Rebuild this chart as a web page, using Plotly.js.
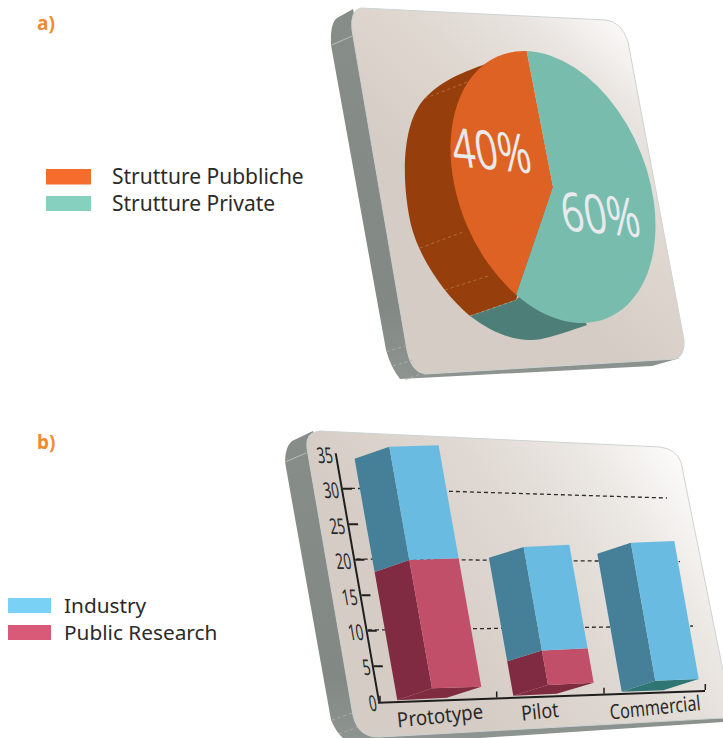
<!DOCTYPE html>
<html><head><meta charset="utf-8">
<script src="https://cdn.plot.ly/plotly-3.0.1.min.js"></script>
<style>html,body{margin:0;padding:0;background:#fff}#g{width:723px;height:738px}</style>
</head><body><div id="g"></div>
<script>
// ---- data ----
const pieLabels = ['Strutture Pubbliche', 'Strutture Private'];
const pieValues = [40, 60];
const categories = ['Prototype', 'Pilot', 'Commercial'];
const publicResearch = [18.6, 5, 0];
const industry = [16.4, 15, 20];

// ---- styling / geometry ----
const W = 723, H = 738;
const FONT = 'Noto Sans, Open Sans, sans-serif';
const TXT = '#2b2a29';
const P = (x, y) => (x / W).toFixed(5) + ',' + (1 - y / H).toFixed(5);
const poly = pts => 'M' + pts.map(p => P(p[0], p[1])).join('L') + 'Z';
const shapePath = (path, fill) => ({type: 'path', xref: 'paper', yref: 'paper', path, fillcolor: fill, line: {width: 0}, layer: 'below'});
const seg = (a, b, color, width, dash) => ({type: 'line', xref: 'paper', yref: 'paper', x0: a[0] / W, y0: 1 - a[1] / H, x1: b[0] / W, y1: 1 - b[1] / H, line: {color, width, dash: dash || 'solid'}, layer: 'below'});
const rect = (x0, y0, x1, y1, fill) => ({type: 'rect', xref: 'paper', yref: 'paper', x0: x0 / W, x1: x1 / W, y0: 1 - y1 / H, y1: 1 - y0 / H, fillcolor: fill, line: {width: 0}, layer: 'below'});
const note = (x, y, text, size, color, bold) => ({xref: 'paper', yref: 'paper', x: x / W, y: 1 - y / H, xanchor: 'left', yanchor: 'middle', showarrow: false, text: bold ? '<b>' + text + '</b>' : text, font: {family: FONT, size, color}});

// bar projection: value-0 corners of each box (side-left, join, front-right), one value unit on screen
const barBase = [
  [[397.3, 700.3], [432, 688.3], [481.3, 686.7]],
  [[513.3, 695.7], [548, 685], [593.7, 682.7]],
  [[621.7, 691.7], [655.3, 680.7], [698.7, 679]]
];
const unitVec = [-1.22, -6.9];
const floorExtra = [[446.7, 697.7], [556.7, 693.7], [663.3, 690.3]];
const floorColors = ['#7f2b40', '#7f2b40', '#2f7574'];

// pie affine
const PC = [553, 187];
const A = [1.0, 0.09, 0.225, 1.357];

const panelSvg = `<svg xmlns="http://www.w3.org/2000/svg" width="723" height="738" viewBox="0 0 723 738">
<defs>
<linearGradient id="a" gradientUnits="userSpaceOnUse" x1="460" y1="210" x2="625" y2="25"><stop offset="0" stop-color="#d5ccc5"/><stop offset=".45" stop-color="#dfd8d1"/><stop offset=".75" stop-color="#e9e4e0"/><stop offset="1" stop-color="#fbfaf9"/></linearGradient>
<linearGradient id="b" gradientUnits="userSpaceOnUse" x1="420" y1="620" x2="670" y2="450"><stop offset="0" stop-color="#d5ccc5"/><stop offset=".45" stop-color="#e0d9d3"/><stop offset=".75" stop-color="#ebe7e3"/><stop offset="1" stop-color="#fbfaf9"/></linearGradient>
<linearGradient id="w" x1="0" y1="0" x2="0" y2="1"><stop offset="0" stop-color="#878d89"/><stop offset=".8" stop-color="#828884"/><stop offset="1" stop-color="#8e9490"/></linearGradient>
</defs>
<path fill="url(#w)" d="M353,9 L337,18 Q330,23 331,45 L386,350 Q391,368 400,379 L652,366 L680,358 L425,372 Z"/>
<path fill="url(#a)" stroke="#cdd3d0" stroke-width="1" d="M361,8 L606,20 Q622,22 628,42 L684,340 Q685,355 676,359 L425,374 Q411,372 407,350 L352,30 Q350,10 361,8 Z"/>
<path fill="url(#w)" d="M313,431 L292,441 Q285,447 285,462 L331,720 Q336,732 343,738 L480,738 L723,722 L723,715 L360,730 Z"/>
<path fill="url(#b)" stroke="#cdd3d0" stroke-width="1" d="M320,431 L660,447 Q676,449 681,462 L735,730 L723,718 L380,737 Q358,738 353,715 L307,448 Q305,432 320,431 Z"/>
</svg>`;

const data = [
  {type: 'pie', labels: pieLabels, values: pieValues, sort: false, direction: 'clockwise', rotation: -146.2,
   domain: {x: [(PC[0] - 100) / W, (PC[0] + 100) / W], y: [1 - (PC[1] + 100) / H, 1 - (PC[1] - 100) / H]},
   marker: {colors: ['#de6224', '#78bcae'], line: {width: 0}},
   textinfo: 'percent', textposition: 'inside', insidetextorientation: 'horizontal',
   insidetextfont: {family: 'Open Sans, Noto Sans, sans-serif', size: 40, color: '#e9eaec', weight: 400}, showlegend: false},
  {type: 'bar', name: 'Public Research side', x: categories, y: publicResearch, cliponaxis: false, marker: {color: '#802b41', line: {width: 0}}, showlegend: false},
  {type: 'bar', name: 'Industry side', x: categories, y: industry, base: publicResearch, cliponaxis: false, marker: {color: '#458098', line: {width: 0}}, showlegend: false},
  {type: 'bar', name: 'Public Research', x: categories, y: publicResearch, cliponaxis: false, marker: {color: '#c24f69', line: {width: 0}}, showlegend: false},
  {type: 'bar', name: 'Industry', x: categories, y: industry, base: publicResearch, cliponaxis: false, marker: {color: '#6abbe1', line: {width: 0}}, showlegend: false}
];

const wallLine = '#b4b9b5';
const shapes = [
  shapePath('M' + P(488, 63) + 'C' + P(465, 72) + ' ' + P(445, 78) + ' ' + P(425, 98) + 'C' + P(400, 125) + ' ' + P(402, 185) + ' ' + P(411, 225) + 'C' + P(420, 260) + ' ' + P(445, 295) + ' ' + P(470, 316) + 'L' + P(516, 300) + 'L' + P(553, 187) + 'Z', '#963f0c'),
  shapePath('M' + P(470, 316) + 'C' + P(490, 331) + ' ' + P(510, 340) + ' ' + P(530, 340) + 'C' + P(545, 340) + ' ' + P(560, 334) + ' ' + P(587, 325) + 'L' + P(553, 260) + 'L' + P(516, 300) + 'Z', '#4d7f78'),
  seg([425, 98.3], [468.3, 81.7], '#c68a5c', 0.6, 'dot'),
  seg([420, 248], [463, 232], '#c68a5c', 0.6, 'dot'),
  seg([445, 290], [488, 276], '#c68a5c', 0.6, 'dot'),
  seg([470, 316], [516, 300], '#c9a98c', 0.6, 'dot'),
  seg([331.7, 45], [352.3, 36], '#cfd3d0', 0.7),
  seg([386.7, 351.7], [408.3, 345], wallLine, 0.7, 'dot'),
  seg([393, 366], [413, 360], wallLine, 0.7, 'dot'),
  seg([405, 380], [423, 373], wallLine, 0.7, 'dot'),
  seg([285, 462], [306, 453], '#cfd3d0', 0.7),
  seg([332, 720], [352, 713], wallLine, 0.7, 'dot'),
  seg([339, 734], [358, 727], wallLine, 0.7, 'dot'),
  seg([351, 488.3], [667, 498], '#2b2a29', 1.3, '4px,3px'),
  seg([356.7, 559], [680, 561.7], '#2b2a29', 1.3, '4px,3px'),
  seg([368, 630], [693, 626], '#2b2a29', 1.3, '4px,3px'),
  rect(46, 169, 91, 184.5, '#f66c2d'),
  rect(46, 196, 91, 211, '#86d0c0'),
  rect(8, 598, 51, 613, '#79d2f6'),
  rect(8, 625, 51, 640, '#d85a78')
];
barBase.forEach((b, j) => shapes.push(shapePath(poly([b[0], b[1], b[2], floorExtra[j]]), floorColors[j])));

const annotations = [
  note(35, 23, 'a)', 19, '#f28a30', true),
  note(35, 442, 'b)', 19, '#f28a30', true),
  note(110, 176, pieLabels[0], 21, TXT),
  note(110, 203, pieLabels[1], 21, TXT),
  note(62, 605, 'Industry', 20.8, TXT),
  note(62, 632, 'Public Research', 20.8, TXT)
];

const layout = {
  width: W, height: H, margin: {l: 0, r: 0, t: 0, b: 0, pad: 0},
  paper_bgcolor: '#fff', plot_bgcolor: 'rgba(0,0,0,0)', showlegend: false,
  barmode: 'overlay', bargap: 0.3,
  xaxis: {domain: [380 / W, 705 / W], type: 'category', showgrid: false, zeroline: false, showline: true, linecolor: '#1f1e1d', linewidth: 2,
          ticks: 'inside', ticklen: 6, tickwidth: 1.5, tickcolor: '#1f1e1d', tickson: 'boundaries', tickfont: {family: FONT, size: 18, color: TXT}},
  yaxis: {domain: [1 - 701.7 / H, 1 - 453.3 / H], range: [0, 35], dtick: 5, tick0: 0, showgrid: false, zeroline: false, showline: true, linecolor: '#1f1e1d', linewidth: 2,
          ticks: 'inside', ticklen: 9, tickwidth: 2, tickcolor: '#1f1e1d', tickfont: {family: FONT, size: 16, color: TXT}},
  images: [{source: 'data:image/svg+xml;charset=utf-8,' + encodeURIComponent(panelSvg), xref: 'paper', yref: 'paper', x: 0, y: 1, sizex: 1, sizey: 1, sizing: 'stretch', xanchor: 'left', yanchor: 'top', layer: 'below'}],
  shapes, annotations
};

const gd = document.getElementById('g');
Plotly.newPlot(gd, data, layout, {displayModeBar: false, staticPlot: true}).then(() => {
  const fl = gd._fullLayout, ya = fl.yaxis, xa = fl.xaxis;
  const geo = el => el.style.setProperty('shape-rendering', 'geometricPrecision');

  // projected boxes may leave the axis rectangle
  gd.querySelectorAll('.cartesianlayer [clip-path], .cartesianlayer .plot, .barlayer, .barlayer .trace, .barlayer .point').forEach(el => {
    el.removeAttribute('clip-path'); el.style.removeProperty('clip-path');
  });

  // bars: Plotly's own rects, projected onto the box faces
  gd.querySelectorAll('.barlayer .trace').forEach((tr, t) => {
    const edges = t < 2 ? [0, 1] : [1, 2];
    tr.querySelectorAll('.point path').forEach((p, j) => {
      const n = (p.getAttribute('d') || '').match(/-?[\d.]+/g);
      if (!n || n.length < 4) return;
      const v0 = ya.p2l(+n[1]), v1 = ya.p2l(+n[2]);
      const pt = (e, v) => {
        const b = barBase[j][e];
        return (b[0] + v * unitVec[0] - xa._offset).toFixed(2) + ',' + (b[1] + v * unitVec[1] - ya._offset).toFixed(2);
      };
      p.setAttribute('d', 'M' + pt(edges[0], v0) + 'L' + pt(edges[0], v1) + 'L' + pt(edges[1], v1) + 'L' + pt(edges[1], v0) + 'Z');
      geo(p);
    });
  });

  // y axis leans with the panel
  const k = 43.3 / 248.4, yB = 701.7;
  const yM = `matrix(1,0,${k},1,${-k * yB},0)`;
  gd.querySelectorAll('path.ytick, path.ylines-above').forEach(el => {
    el.setAttribute('transform', yM + ' ' + (el.getAttribute('transform') || '')); geo(el);
  });
  gd.querySelectorAll('.ytick text').forEach(el => {
    const b = el.getBBox(), cx = b.x + b.width / 2, cy = b.y + b.height / 2;
    el.setAttribute('transform', 'translate(2.5,1.5) ' + yM + ' ' + (el.getAttribute('transform') || '') + ` translate(${cx},${cy}) scale(0.84,1.36) translate(${-cx},${-cy})`);
  });

  // x axis
  const kx = -11.7 / 325;
  const xTickX = [380, 496.7, 604, 705.3];
  const xM = x => `translate(${x},${yB + kx * (x - 380)})`;
  gd.querySelectorAll('path.xlines-above').forEach(el => {
    el.setAttribute('transform', `matrix(1,${kx},0,1,0,${-kx * 380})`); geo(el);
  });
  const tickEls = [...gd.querySelectorAll('path.xtick')];
  xTickX.forEach((x, i) => {
    let el = tickEls[i];
    if (!el) { el = tickEls[0].cloneNode(true); tickEls[0].parentNode.appendChild(el); }
    el.setAttribute('d', 'M0,0v-6');
    el.setAttribute('transform', xM(x)); geo(el);
  });
  const xTargets = [[440, 715], [540, 710.7], [655, 706.7]];
  const xScale = [1.04, 1, 0.9];
  gd.querySelectorAll('.xtick text').forEach((el, i) => {
    const b = el.getBBox(), cx = b.x + b.width / 2, cy = b.y + b.height / 2, t = xTargets[i];
    el.setAttribute('transform', `translate(${t[0]},${t[1]}) rotate(-6) scale(${xScale[i]},1.15) translate(${-cx},${-cy})`);
  });

  // pie: real pie trace, seen at the panel's angle
  const [a, b, c, d] = A;
  const e = PC[0] - a * PC[0] - c * PC[1], f = PC[1] - b * PC[0] - d * PC[1];
  gd.querySelector('.pielayer').setAttribute('transform', `matrix(${a},${b},${c},${d},${e},${f})`);
  const det = a * d - b * c;
  const inv = (x, y) => { const X = x - e, Y = y - f; return [(d * X - c * Y) / det, (-b * X + a * Y) / det]; };
  const pieT = {'40%': [491, 149], '60%': [600, 213]};
  gd.querySelectorAll('.pielayer g.slicetext text').forEach(txt => {
    const target = pieT[txt.textContent.trim()];
    if (!target) return;
    txt.removeAttribute('transform');
    const bb = txt.getBBox(), q = inv(target[0], target[1]);
    txt.setAttribute('transform', `translate(${q[0] - (bb.x + bb.width / 2)},${q[1] - (bb.y + bb.height / 2)})`);
  });
});
</script></body></html>
